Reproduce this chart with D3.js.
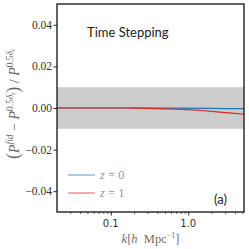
<!doctype html>
<html lang="en">
  <head>
    <meta charset="UTF-8" />
    <title>Time Stepping</title>
    <script src="https://d3js.org/d3.v7.min.js"></script>
    <style>
      body { margin: 0; padding: 0; background: #ffffff; }
      svg { display: block; }
      .tick-label { font-family: 'Liberation Serif', serif; font-size: 11.5px; fill: #333333; }
      .xtick-label { font-family: 'DejaVu Sans', sans-serif; font-size: 10px; fill: #333333; }
      .math { font-family: 'Liberation Serif', serif; fill: #333333; }
    </style>
  </head>
  <body>
    <div id="chart"></div>
    <script>
      // k values and fractional differences
      const kValues = [0.02, 0.03, 0.05, 0.07, 0.1, 0.15, 0.2, 0.3, 0.5, 0.7, 1.0, 1.5, 2.0, 3.0, 4.0, 5.2]
      const diffZ0 = [0, 0, 0, 0, 0, 0, 0, 0, -0.0001, -0.0001, -0.0001, -0.0002, -0.0002, -0.0003, -0.0003, -0.0003]
      const diffZ1 = [0, 0, 0, 0, 0, 0, -0.0001, -0.0002, -0.0004, -0.0006, -0.0008, -0.0012, -0.0016, -0.0022, -0.0026, -0.003]
      const yTicks = [-0.04, -0.02, 0.0, 0.02, 0.04]
      const xTicks = [0.1, 1.0]
      const xMinorTicks = [0.03, 0.04, 0.05, 0.06, 0.07, 0.08, 0.09, 0.2, 0.3, 0.4, 0.5, 0.6, 0.7, 0.8, 0.9, 2, 3, 4, 5]
      const bandRange = [-0.01, 0.01]
      const seriesNames = ['z = 0', 'z = 1']
      const seriesColors = ['#1f77b4', '#d62728']

      const width = 249
      const height = 249
      const margin = { top: 4, right: 5, bottom: 37, left: 57 }
      const innerW = width - margin.left - margin.right
      const innerH = height - margin.top - margin.bottom

      const svg = d3.select('#chart').append('svg').attr('width', width).attr('height', height)
      const g = svg.append('g').attr('transform', `translate(${margin.left},${margin.top})`)

      const x = d3.scaleLog().domain([0.0202, 5.25]).range([0, innerW])
      const y = d3.scaleLinear().domain([-0.05, 0.05]).range([innerH, 0])

      // grey band of +-1 per cent
      g.append('rect')
        .attr('x', 0)
        .attr('width', innerW)
        .attr('y', y(bandRange[1]))
        .attr('height', y(bandRange[0]) - y(bandRange[1]))
        .attr('fill', '#cccccc')

      const line = d3
        .line()
        .x((d) => x(d[0]))
        .y((d) => y(d[1]))

      const series = [diffZ0, diffZ1]
      series.forEach((vals, i) => {
        g.append('path')
          .datum(kValues.map((k, j) => [k, vals[j]]))
          .attr('d', line)
          .attr('fill', 'none')
          .attr('stroke', seriesColors[i])
          .attr('stroke-width', 1.2)
      })

      // y axis
      const yAxis = g
        .append('g')
        .call(d3.axisLeft(y).tickValues(yTicks).tickSize(3.5).tickFormat(() => ''))
      yAxis.select('.domain').remove()
      yAxis.selectAll('.tick line').attr('stroke', '#222222').attr('stroke-width', 1)
      yTicks.forEach((t) => {
        g.append('text')
          .attr('class', 'tick-label')
          .attr('x', -5)
          .attr('y', y(t))
          .attr('dy', '0.35em')
          .attr('text-anchor', 'end')
          .text(d3.format('.2f')(t).replace('-', '\u2212'))
      })

      // x axis
      const xAxis = g
        .append('g')
        .attr('transform', `translate(0,${innerH})`)
        .call(d3.axisBottom(x).tickValues(xTicks).tickSize(3.5).tickFormat(() => ''))
      xAxis.select('.domain').remove()
      xAxis.selectAll('.tick line').attr('stroke', '#222222').attr('stroke-width', 1)
      const xMinor = g
        .append('g')
        .attr('transform', `translate(0,${innerH})`)
        .call(d3.axisBottom(x).tickValues(xMinorTicks).tickSize(2).tickFormat(() => ''))
      xMinor.select('.domain').remove()
      xMinor.selectAll('.tick line').attr('stroke', '#222222').attr('stroke-width', 0.7)
      xTicks.forEach((t) => {
        g.append('text')
          .attr('class', 'xtick-label')
          .attr('x', x(t))
          .attr('y', innerH + 15)
          .attr('text-anchor', 'middle')
          .text(d3.format('.1f')(t))
      })

      // frame
      g.append('rect')
        .attr('width', innerW)
        .attr('height', innerH)
        .attr('fill', 'none')
        .attr('stroke', '#222222')
        .attr('stroke-width', 1.4)

      // title and panel tag
      g.append('text')
        .attr('x', 30)
        .attr('y', 33)
        .attr('font-family', 'Lato, sans-serif')
        .attr('font-size', '13px')
        .attr('fill', '#222222')
        .text('Time Stepping')
      g.append('text')
        .attr('x', innerW - 30)
        .attr('y', innerH - 8)
        .attr('font-family', 'Lato, sans-serif')
        .attr('font-size', '13px')
        .attr('fill', '#222222')
        .text('(a)')

      // legend
      seriesNames.forEach((name, i) => {
        const ly = 171 + i * 18
        g.append('line')
          .attr('x1', 11)
          .attr('x2', 38)
          .attr('y1', ly)
          .attr('y2', ly)
          .attr('stroke', seriesColors[i])
          .attr('stroke-opacity', 0.5)
          .attr('stroke-width', 1.5)
        const t = g
          .append('text')
          .attr('class', 'math')
          .attr('x', 43)
          .attr('y', ly)
          .attr('dy', '0.35em')
          .attr('font-size', '12.5px')
          .attr('fill-opacity', 0.55)
        t.append('tspan').attr('font-style', 'italic').text('z')
        t.append('tspan').text(' = ' + name.split('= ')[1])
      })

      // x label
      const xl = svg
        .append('text')
        .attr('class', 'math')
        .attr('x', margin.left + innerW / 2)
        .attr('y', 243)
        .attr('text-anchor', 'middle')
        .attr('font-size', '12.5px')
        .attr('fill-opacity', 0.75)
      xl.append('tspan').attr('font-style', 'italic').text('k')
      xl.append('tspan').text('[')
      xl.append('tspan').attr('font-style', 'italic').text('h')
      xl.append('tspan').text('\u2002Mpc')
      xl.append('tspan').attr('dy', -5).attr('font-size', '8px').text('\u22121')
      xl.append('tspan').attr('dy', 5).text(']')

      // y label
      const yl = svg
        .append('text')
        .attr('class', 'math')
        .attr('transform', `translate(19,${margin.top + innerH / 2 - 4}) rotate(-90)`)
        .attr('text-anchor', 'middle')
        .attr('font-size', '14px')
        .attr('fill-opacity', 0.75)
      yl.append('tspan').attr('font-size', '18px').text('(')
      yl.append('tspan').attr('font-style', 'italic').text('P')
      yl.append('tspan').attr('dy', -6).attr('font-size', '9.5px').attr('font-style', 'italic').text('fid')
      yl.append('tspan').attr('dy', 6).text(' \u2212 ')
      yl.append('tspan').attr('font-style', 'italic').text('P')
      yl.append('tspan').attr('dy', -6).attr('font-size', '9.5px').text('0.5')
      yl.append('tspan').attr('font-size', '9.5px').attr('font-style', 'italic').text('\u03b4')
      yl.append('tspan').attr('dy', 2).attr('font-size', '7px').attr('font-style', 'italic').text('t')
      yl.append('tspan').attr('dy', 4).attr('font-size', '18px').text(')')
      yl.append('tspan').text(' / ')
      yl.append('tspan').attr('font-style', 'italic').text('P')
      yl.append('tspan').attr('dy', -6).attr('font-size', '9.5px').text('0.5')
      yl.append('tspan').attr('font-size', '9.5px').attr('font-style', 'italic').text('\u03b4')
      yl.append('tspan').attr('dy', 2).attr('font-size', '7px').attr('font-style', 'italic').text('t')
    </script>
  </body>
</html>
